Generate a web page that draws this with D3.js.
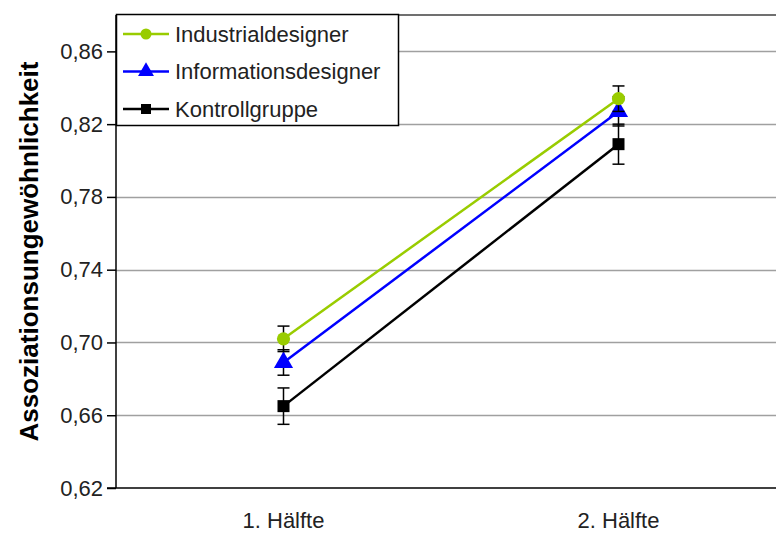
<!DOCTYPE html>
<html lang="de">
<head>
    <meta charset="UTF-8">
    <title>Assoziationsungewöhnlichkeit</title>
    <style>
        body {
            margin: 0;
            padding: 0;
            background-color: #ffffff;
            font-family: "Liberation Sans", Arial, sans-serif;
        }
        #chart svg {
            display: block;
        }
    </style>
</head>
<body>
    <div id="chart"></div>
    <script src="https://d3js.org/d3.v7.min.js"></script>
    <script>
        // Data
        const categories = ['1. Hälfte', '2. Hälfte'];
        const seriesNames = ['Industrialdesigner', 'Informationsdesigner', 'Kontrollgruppe'];
        const industrialValues = [0.702, 0.834];
        const industrialErrors = [0.007, 0.007];
        const informationValues = [0.689, 0.827];
        const informationErrors = [0.007, 0.008];
        const kontrollValues = [0.665, 0.809];
        const kontrollErrors = [0.010, 0.011];
        const yTicks = [0.62, 0.66, 0.70, 0.74, 0.78, 0.82, 0.86];
        const yTitle = 'Assoziationsungewöhnlichkeit';

        const width = 776;
        const height = 536;
        const margin = { top: 15, right: -10, bottom: 48, left: 116 };
        const innerWidth = width - margin.left - margin.right;
        const innerHeight = height - margin.top - margin.bottom;
        const fontSize = 22;

        const series = [
            { name: seriesNames[0], values: industrialValues, errors: industrialErrors, color: '#99cc00', marker: 'circle' },
            { name: seriesNames[1], values: informationValues, errors: informationErrors, color: '#0000ff', marker: 'triangle' },
            { name: seriesNames[2], values: kontrollValues, errors: kontrollErrors, color: '#000000', marker: 'square' }
        ];

        const svg = d3.select('#chart')
            .append('svg')
            .attr('width', width)
            .attr('height', height);

        const g = svg.append('g')
            .attr('transform', `translate(${margin.left},${margin.top})`);

        const x = d3.scaleBand()
            .domain(categories)
            .range([0, innerWidth]);

        const y = d3.scaleLinear()
            .domain([0.62, 0.88])
            .range([innerHeight, 0]);

        // gridlines
        g.selectAll('.grid')
            .data(yTicks.slice(1))
            .join('line')
            .attr('class', 'grid')
            .attr('x1', 0)
            .attr('x2', innerWidth)
            .attr('y1', d => Math.round(y(d)) + 0.5)
            .attr('y2', d => Math.round(y(d)) + 0.5)
            .attr('stroke', '#a0a0a0')
            .attr('stroke-width', 1.5);

        // top border of plot area
        g.append('line')
            .attr('x1', 0)
            .attr('x2', innerWidth)
            .attr('y1', y(0.88))
            .attr('y2', y(0.88))
            .attr('stroke', '#404040')
            .attr('stroke-width', 1.5);

        // y axis
        const yAxis = g.append('g')
            .call(d3.axisLeft(y)
                .tickValues(yTicks)
                .tickSize(9)
                .tickPadding(4)
                .tickFormat(d => d3.format('.2f')(d).replace('.', ',')));
        yAxis.select('.domain')
            .attr('d', `M0,${y(0.88)}V${innerHeight}`)
            .attr('stroke', '#000')
            .attr('stroke-width', 1.5);
        yAxis.selectAll('.tick line').attr('stroke', '#000').attr('stroke-width', 1.5);
        yAxis.selectAll('text')
            .attr('font-family', '"Liberation Sans", Arial, sans-serif')
            .attr('font-size', fontSize)
            .attr('fill', '#222');

        // x axis
        const xAxis = g.append('g')
            .attr('transform', `translate(0,${innerHeight})`)
            .call(d3.axisBottom(x).tickSize(0).tickPadding(24));
        xAxis.select('.domain')
            .attr('d', `M-9,0H${innerWidth}`)
            .attr('stroke', '#000')
            .attr('stroke-width', 1.5);
        xAxis.selectAll('text')
            .attr('font-family', '"Liberation Sans", Arial, sans-serif')
            .attr('font-size', fontSize)
            .attr('fill', '#222');

        // y title
        svg.append('text')
            .attr('transform', `translate(38,${margin.top + innerHeight / 2}) rotate(-90)`)
            .attr('text-anchor', 'middle')
            .attr('font-family', '"Liberation Sans", Arial, sans-serif')
            .attr('font-weight', 'bold')
            .attr('font-size', 26)
            .text(yTitle);

        const cx = i => x(categories[i]) + x.bandwidth() / 2;

        const line = d3.line()
            .x((d, i) => cx(i))
            .y(d => y(d));

        function drawMarker(sel, type, color, size) {
            if (type === 'circle') {
                sel.append('circle').attr('r', size * 0.55).attr('fill', color);
            } else if (type === 'triangle') {
                sel.append('path')
                    .attr('d', d3.symbol().type(d3.symbolTriangle).size(size * size * 1.1)())
                    .attr('fill', color);
            } else {
                sel.append('rect')
                    .attr('x', -size / 2).attr('y', -size / 2)
                    .attr('width', size).attr('height', size)
                    .attr('fill', color);
            }
        }

        // draw series (black first so coloured lines sit on top)
        series.slice().reverse().forEach(s => {
            const sg = g.append('g');

            // error bars
            s.values.forEach((v, i) => {
                const eg = sg.append('g').attr('stroke', '#000').attr('stroke-width', 1.5);
                eg.append('line')
                    .attr('x1', cx(i)).attr('x2', cx(i))
                    .attr('y1', y(v + s.errors[i])).attr('y2', y(v - s.errors[i]));
                [v + s.errors[i], v - s.errors[i]].forEach(e => {
                    eg.append('line')
                        .attr('x1', cx(i) - 6).attr('x2', cx(i) + 6)
                        .attr('y1', y(e)).attr('y2', y(e));
                });
            });

            sg.append('path')
                .datum(s.values)
                .attr('fill', 'none')
                .attr('stroke', s.color)
                .attr('stroke-width', 2.5)
                .attr('d', line);

            s.values.forEach((v, i) => {
                const m = sg.append('g').attr('transform', `translate(${cx(i)},${y(v)})`);
                drawMarker(m, s.marker, s.color, 12);
            });
        });

        // legend
        const legend = svg.append('g')
            .attr('transform', 'translate(116,14)');
        legend.append('rect')
            .attr('x', 0.5).attr('y', 0.5)
            .attr('width', 282).attr('height', 111)
            .attr('fill', '#fff')
            .attr('stroke', '#000')
            .attr('stroke-width', 1.5);

        const items = legend.selectAll('.item')
            .data(series)
            .join('g')
            .attr('class', 'item')
            .attr('transform', (d, i) => `translate(0,${20 + i * 37.5})`);
        items.append('line')
            .attr('x1', 7).attr('x2', 53)
            .attr('y1', 0).attr('y2', 0)
            .attr('stroke', d => d.color)
            .attr('stroke-width', 2.5);
        items.each(function (d) {
            const m = d3.select(this).append('g').attr('transform', 'translate(30,0)');
            drawMarker(m, d.marker, d.color, 10);
        });
        items.append('text')
            .attr('x', 59)
            .attr('dy', '0.35em')
            .attr('font-family', '"Liberation Sans", Arial, sans-serif')
            .attr('font-size', fontSize)
            .attr('fill', '#222')
            .text(d => d.name);
    </script>
</body>
</html>
